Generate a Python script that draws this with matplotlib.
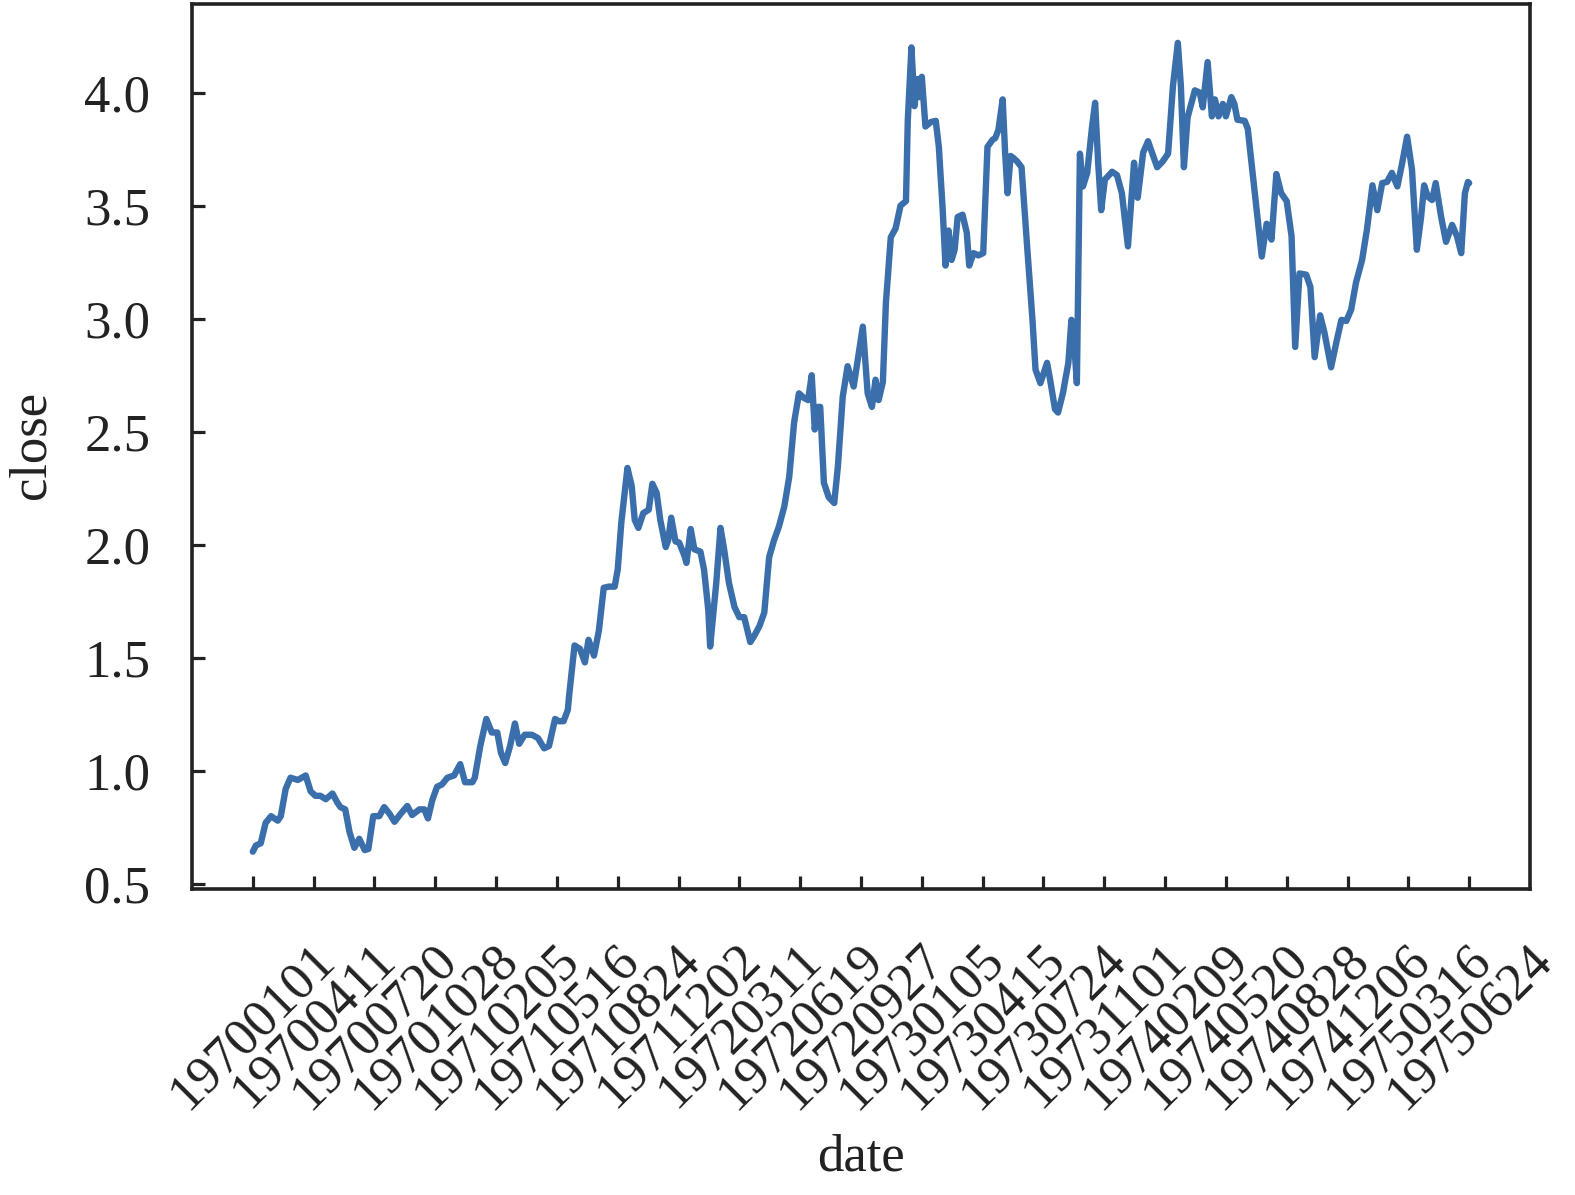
import matplotlib
matplotlib.use('Agg')
import matplotlib.pyplot as plt

plt.rcParams['font.family'] = ['Liberation Serif', 'DejaVu Serif']

# day offset from 19700101, closing value
days = [0, 5, 13, 21, 30, 41, 46, 54, 62, 74, 87, 95, 103, 111, 120, 131, 139, 144, 152, 159,
        167, 175, 184, 190, 198, 208, 216, 225, 233, 243, 254, 262, 274, 282, 288, 295, 303, 311,
        320, 331, 341, 349, 361, 365, 374, 384, 393, 402, 408, 415, 423, 431, 438, 447, 459, 469,
        479, 487, 497, 503, 511, 518, 520, 529, 538, 546, 552, 561, 569, 577, 585, 595, 600, 606,
        616, 623, 628, 634, 642, 651, 657, 664, 670, 679, 683, 688, 695, 701, 710, 713, 720, 726,
        736, 742, 749, 752, 762, 769, 775, 783, 792, 800, 808, 818, 824, 833, 841, 849, 857, 865,
        874, 882, 890, 898, 906, 913, 919, 924, 929, 933, 939, 947, 956, 962, 970, 978, 988, 1003,
        1011, 1018, 1024, 1029, 1036, 1041, 1049, 1057, 1065, 1074, 1077, 1083, 1088, 1093, 1096,
        1100, 1106, 1115, 1123, 1128, 1134, 1139, 1144, 1149, 1154, 1159, 1167, 1174, 1178, 1185,
        1193, 1201, 1208, 1216, 1221, 1226, 1233, 1237, 1241, 1246, 1251, 1257, 1264, 1274, 1282,
        1287, 1295, 1306, 1311, 1319, 1324, 1332, 1341, 1346, 1351, 1355, 1360, 1365, 1372, 1380,
        1385, 1390, 1395, 1401, 1413, 1421, 1429, 1439, 1449, 1455, 1464, 1472, 1487, 1496, 1505,
        1513, 1521, 1526, 1531, 1537, 1549, 1557, 1562, 1570, 1577, 1582, 1588, 1595, 1600, 1609,
        1614, 1619, 1631, 1636, 1644, 1652, 1659, 1667, 1675, 1683, 1691, 1700, 1708, 1714, 1721,
        1732, 1739, 1746, 1755, 1762, 1773, 1782, 1790, 1798, 1806, 1814, 1824, 1832, 1841, 1849,
        1857, 1865, 1873, 1882, 1890, 1898, 1906, 1914, 1921, 1926, 1932, 1939, 1945, 1954, 1962,
        1972, 1980, 1987, 1993, 1998, 2000]
close = [0.643, 0.67, 0.68, 0.77, 0.80, 0.78, 0.80, 0.92, 0.97, 0.96, 0.98, 0.91, 0.89, 0.89, 0.875,
         0.90, 0.86, 0.84, 0.83, 0.73, 0.66, 0.70, 0.65, 0.655, 0.80, 0.80, 0.84, 0.81, 0.775, 0.81,
         0.845, 0.805, 0.83, 0.83, 0.79, 0.87, 0.93, 0.94, 0.97, 0.98, 1.03, 0.95, 0.95, 0.97, 1.11,
         1.23, 1.17, 1.17, 1.08, 1.035, 1.11, 1.21, 1.12, 1.16, 1.16, 1.145, 1.10, 1.11, 1.23, 1.22,
         1.22, 1.27, 1.33, 1.555, 1.54, 1.48, 1.58, 1.51, 1.62, 1.81, 1.815, 1.815, 1.89, 2.10, 2.34,
         2.26, 2.11, 2.075, 2.14, 2.155, 2.27, 2.23, 2.11, 1.99, 2.02, 2.12, 2.015, 2.01, 1.95, 1.92,
         2.07, 1.98, 1.97, 1.89, 1.71, 1.55, 1.83, 2.075, 1.98, 1.83, 1.725, 1.68, 1.68, 1.57, 1.595,
         1.64, 1.70, 1.945, 2.02, 2.08, 2.17, 2.30, 2.54, 2.67, 2.65, 2.64, 2.75, 2.51, 2.61, 2.61,
         2.275, 2.21, 2.185, 2.345, 2.655, 2.79, 2.70, 2.965, 2.67, 2.61, 2.73, 2.64, 2.72, 3.07,
         3.36, 3.40, 3.50, 3.52, 3.88, 4.20, 3.94, 4.06, 3.98, 4.07, 3.85, 3.87, 3.875, 3.76, 3.50,
         3.235, 3.39, 3.26, 3.305, 3.45, 3.46, 3.38, 3.235, 3.29, 3.28, 3.29, 3.76, 3.79, 3.80, 3.835,
         3.97, 3.735, 3.555, 3.72, 3.71, 3.695, 3.67, 3.29, 2.995, 2.775, 2.715, 2.805, 2.73, 2.60,
         2.585, 2.67, 2.805, 2.995, 2.875, 2.715, 3.73, 3.585, 3.645, 3.85, 3.955, 3.69, 3.48, 3.615,
         3.65, 3.635, 3.555, 3.32, 3.69, 3.535, 3.735, 3.785, 3.67, 3.695, 3.73, 4.03, 4.22, 4.03,
         3.67, 3.89, 4.01, 4.00, 3.935, 4.135, 3.895, 3.97, 3.895, 3.95, 3.895, 3.98, 3.95, 3.88,
         3.875, 3.84, 3.645, 3.45, 3.275, 3.42, 3.35, 3.64, 3.555, 3.52, 3.365, 2.875, 3.20, 3.195,
         3.14, 2.83, 3.015, 2.94, 2.785, 2.90, 2.995, 2.99, 3.04, 3.16, 3.26, 3.395, 3.59, 3.48, 3.60,
         3.605, 3.645, 3.585, 3.69, 3.805, 3.66, 3.305, 3.45, 3.59, 3.54, 3.525, 3.60, 3.45, 3.34,
         3.415, 3.365, 3.29, 3.555, 3.605, 3.60]

tick_pos = list(range(0, 2001, 100))
tick_labels = ['19700101', '19700411', '19700720', '19701028', '19710205', '19710516', '19710824',
               '19711202', '19720311', '19720619', '19720927', '19730105', '19730415', '19730724',
               '19731101', '19740209', '19740520', '19740828', '19741206', '19750316', '19750624']
y_ticks = [0.5, 1.0, 1.5, 2.0, 2.5, 3.0, 3.5, 4.0]

ink = '#222222'
fig = plt.figure(figsize=(15.75, 11.95), dpi=100)
ax = fig.add_axes([0.1219, 0.2561, 0.8495, 0.7402])
ax.plot(days, close, color='#3b6fab', lw=4.6, solid_joinstyle='round', solid_capstyle='round')

ax.set_xlim(-100, 2100)
ax.set_ylim(0.478, 4.39)
ax.set_xticks(tick_pos)
ax.set_xticklabels(tick_labels, rotation=45)
ax.set_yticks(y_ticks)
ax.set_yticklabels([f'{v:.1f}' for v in y_ticks])

ax.tick_params(direction='in', length=9.5, width=2.3, colors=ink, labelsize=38)
ax.tick_params(axis='x', pad=33)
ax.tick_params(axis='y', pad=30)
for s in ax.spines.values():
    s.set_linewidth(2.6)
    s.set_color(ink)

ax.set_xlabel('date', fontsize=38, color=ink)
ax.set_ylabel('close', fontsize=38, color=ink)
ax.xaxis.set_label_coords(0.5, -0.277)
ax.yaxis.set_label_coords(-0.102, 0.502)

fig.savefig('out.png', dpi=100, facecolor='white')
